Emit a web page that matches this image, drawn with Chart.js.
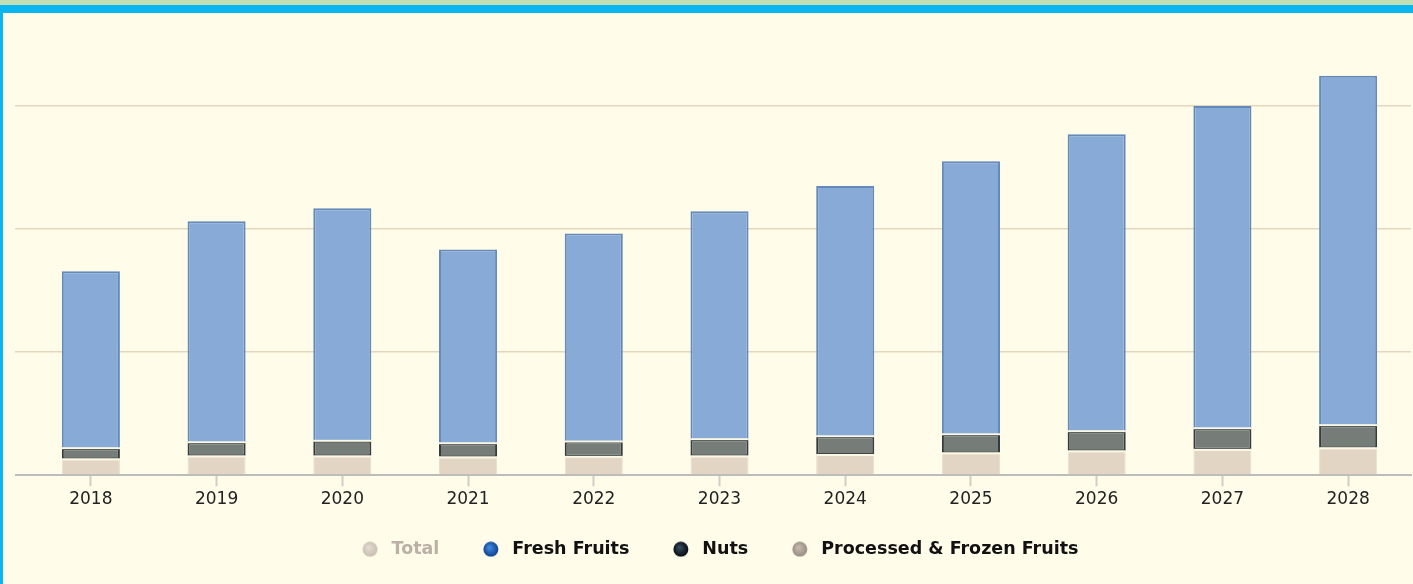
<!DOCTYPE html>
<html lang="en">
<head>
    <meta charset="UTF-8">
    <title>Fruits and Nuts Market</title>
    <script src="https://cdn.jsdelivr.net/npm/chart.js"></script>
    <style>
        html, body { margin: 0; padding: 0; }
        body {
            width: 1413px;
            height: 584px;
            background: #fffdea;
            overflow: hidden;
            position: relative;
        }
        .topstrip { position: absolute; left: 0; top: 0; width: 1413px; height: 5px; background: #c3dfb3; }
        .topbar { position: absolute; left: 0; top: 5px; width: 1413px; height: 8px; background: #0bb5f0; }
        .leftbar { position: absolute; left: 0; top: 13px; width: 3px; height: 571px; background: #0bb5f0; }
        .chart-box { position: absolute; left: 3px; top: 13px; width: 1410px; height: 571px; }
    </style>
</head>
<body>
    <div class="topstrip"></div>
    <div class="topbar"></div>
    <div class="leftbar"></div>
    <div class="chart-box">
        <canvas id="marketChart"></canvas>
    </div>
    <script>
        // values (gridline step = 100)
        const years = ['2018', '2019', '2020', '2021', '2022', '2023', '2024', '2025', '2026', '2027', '2028'];
        const processedFrozen = [13.0, 15.4, 15.4, 14.6, 15.0, 15.4, 16.5, 17.9, 19.5, 20.7, 22.0];
        const nuts = [9.0, 11.4, 12.6, 11.4, 12.4, 13.9, 15.2, 15.4, 16.3, 17.5, 18.7];
        const freshFruits = [143.9, 179.7, 189.1, 157.5, 169.1, 185.3, 203.3, 222.0, 241.4, 262.0, 283.9];
        const total = [166, 206, 217, 183, 196, 215, 235, 255, 277, 300, 325];

        const legendStyles = {
            'Total': { inner: '#e2d9cf', outer: '#c9bdb1', text: '#bab0a6' },
            'Fresh Fruits': { inner: '#3f86dc', outer: '#0c3f8c', text: '#111111' },
            'Nuts': { inner: '#34485a', outer: '#02080e', text: '#111111' },
            'Processed & Frozen Fruits': { inner: '#c2b8ae', outer: '#978b80', text: '#111111' }
        };

        // legend dot drawn on a small canvas, circle sits right of centre
        function makeDot(inner, outer) {
            const c = document.createElement('canvas');
            c.width = 26;
            c.height = 16;
            const g = c.getContext('2d');
            const cx = 17.875;
            const grad = g.createRadialGradient(cx - 1.5, 6, 1, cx, 8, 8);
            grad.addColorStop(0, inner);
            grad.addColorStop(1, outer);
            g.fillStyle = grad;
            g.beginPath();
            g.arc(cx, 8, 7.5, 0, Math.PI * 2);
            g.fill();
            return c;
        }

        // light separator between stacked segments
        const separators = {
            id: 'separators',
            afterDatasetsDraw(chart) {
                const ctx = chart.ctx;
                ctx.save();
                ctx.fillStyle = '#fbf8e6';
                [0, 1].forEach(function(i) {
                    const meta = chart.getDatasetMeta(i);
                    meta.data.forEach(function(bar) {
                        ctx.fillRect(bar.x - bar.width / 2, bar.y - 1, bar.width, 2);
                    });
                });
                ctx.restore();
            }
        };

        const ctx = document.getElementById('marketChart').getContext('2d');
        new Chart(ctx, {
            type: 'bar',
            data: {
                labels: years,
                datasets: [
                    {
                        label: 'Processed & Frozen Fruits',
                        data: processedFrozen,
                        backgroundColor: '#e3d5c4',
                        borderColor: '#e8ddcf',
                        borderWidth: 1,
                        borderSkipped: 'start'
                    },
                    {
                        label: 'Nuts',
                        data: nuts,
                        backgroundColor: '#767c78',
                        borderColor: '#323b3d',
                        borderWidth: 2,
                        borderSkipped: false
                    },
                    {
                        label: 'Fresh Fruits',
                        data: freshFruits,
                        backgroundColor: '#88aad6',
                        borderColor: '#6489bb',
                        borderWidth: 2,
                        borderSkipped: 'start'
                    },
                    {
                        label: 'Total',
                        data: total,
                        backgroundColor: '#d8cec4',
                        hidden: true
                    }
                ]
            },
            options: {
                responsive: true,
                maintainAspectRatio: false,
                animation: false,
                layout: { padding: { left: 12, right: 2, top: 7, bottom: 16 } },
                datasets: {
                    bar: { barPercentage: 0.462, categoryPercentage: 1.0 }
                },
                scales: {
                    x: {
                        stacked: true,
                        offset: true,
                        grid: {
                            offset: false,
                            drawOnChartArea: false,
                            drawTicks: true,
                            tickLength: 11,
                            tickColor: '#d0cdc6',
                            tickWidth: 2
                        },
                        border: { display: true, color: '#bcbcbc', width: 2 },
                        ticks: {
                            color: '#222222',
                            padding: 3,
                            font: { family: 'DejaVu Sans', size: 17 }
                        },
                        afterFit: function(scale) { scale.height = 36.25; }
                    },
                    y: {
                        stacked: true,
                        min: 0,
                        max: 370,
                        z: 1,
                        ticks: { display: false, stepSize: 100 },
                        border: { display: false },
                        grid: {
                            drawTicks: true,
                            tickLength: 13,
                            lineWidth: function(c) { return c.tick && c.tick.value === 0 ? 2 : 1.5; },
                            color: function(c) {
                                if (!c.tick) return 'transparent';
                                if (c.tick.value === 0) return '#bcbcbc';
                                return c.tick.value % 100 === 0 ? 'rgba(175, 140, 100, 0.33)' : 'transparent';
                            }
                        }
                    }
                },
                plugins: {
                    tooltip: { enabled: false },
                    legend: {
                        position: 'bottom',
                        reverse: true,
                        labels: {
                            usePointStyle: true,
                            pointStyleWidth: 35.25,
                            boxHeight: 11,
                            padding: 29,
                            font: { family: 'DejaVu Sans', size: 17.5, weight: 'bold' },
                            generateLabels: function(chart) {
                                const items = Chart.defaults.plugins.legend.labels.generateLabels(chart);
                                return items.map(function(item) {
                                    const s = legendStyles[item.text];
                                    item.hidden = false;
                                    item.fontColor = s.text;
                                    item.pointStyle = makeDot(s.inner, s.outer);
                                    item.lineWidth = 0;
                                    return item;
                                });
                            }
                        }
                    }
                }
            },
            plugins: [separators]
        });
    </script>
</body>
</html>
